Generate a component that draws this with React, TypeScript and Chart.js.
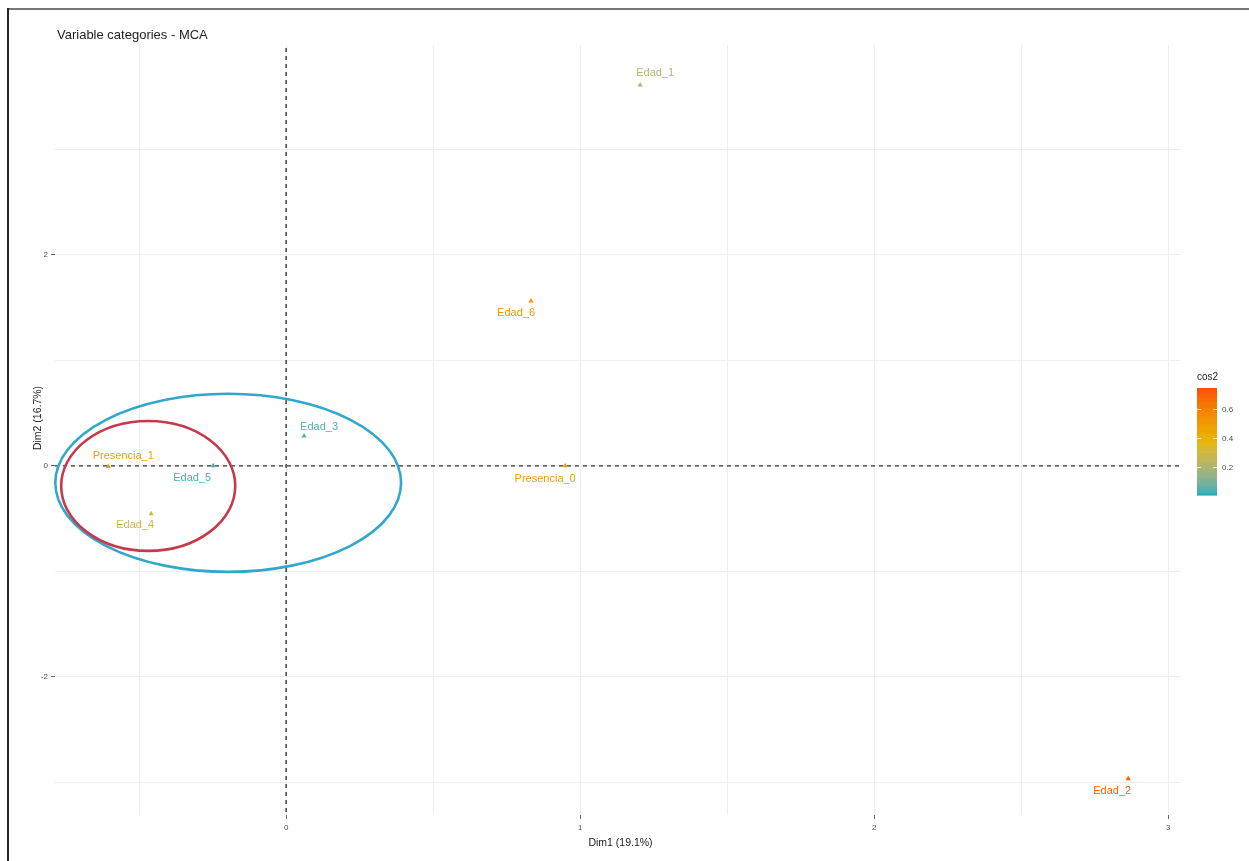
import React, { useEffect, useRef } from "react";
import { Chart, registerables } from "chart.js";

Chart.register(...registerables);

// ---- data ----
const categories = ["Edad_1", "Edad_6", "Edad_3", "Presencia_1", "Edad_5", "Edad_4", "Presencia_0", "Edad_2"];
const dim1 = [1.204, 0.833, 0.061, -0.605, -0.248, -0.459, 0.949, 2.864];
const dim2 = [3.61, 1.564, 0.284, -0.005, 0.0, -0.455, 0.0, -2.967];
const cos2 = [0.22, 0.52, 0.05, 0.48, 0.04, 0.3, 0.48, 0.7];

const xTickLabels = [0, 1, 2, 3];
const yTickLabels = [-2, 0, 2];
const xGridValues = [-0.5, 0, 0.5, 1, 1.5, 2, 2.5, 3];
const yGridValues = [-3, -2, -1, 0, 1, 2, 3];

const cos2Ticks = [0.2, 0.4, 0.6];
const cos2Range = [0.01, 0.74];
const gradientColors = ["#00AFBB", "#E7B800", "#FC4E07"];

// hand-drawn highlight ellipses (data units): centre x, centre y, radius x, radius y
const ellipseCenterX = [-0.197, -0.469];
const ellipseCenterY = [-0.161, -0.19];
const ellipseRadiusX = [0.588, 0.296];
const ellipseRadiusY = [0.844, 0.616];

// ---- styles ----
const ellipseColors = ["#31a8cb", "#c43a4c"];
const labelDx = [15, -15, 15, 15, -21, -16, -20, -16];
const labelDy = [-12, 12, -9, -10, 12, 11, 13, 12];
const FONT = '"Liberation Sans", Arial, sans-serif';

// ---- colour helpers (Lab interpolation like ggplot's gradientn) ----
function hexToRgb(h: string) {
  const n = parseInt(h.slice(1), 16);
  return [(n >> 16) & 255, (n >> 8) & 255, n & 255];
}
function srgbToLin(c: number) {
  c /= 255;
  return c <= 0.04045 ? c / 12.92 : Math.pow((c + 0.055) / 1.055, 2.4);
}
function linToSrgb(c: number) {
  const v = c <= 0.0031308 ? 12.92 * c : 1.055 * Math.pow(c, 1 / 2.4) - 0.055;
  return Math.max(0, Math.min(255, Math.round(v * 255)));
}
const WX = 0.95047, WY = 1.0, WZ = 1.08883;
function fLab(t: number) {
  return t > 216 / 24389 ? Math.cbrt(t) : (24389 / 27 * t + 16) / 116;
}
function fInv(t: number) {
  const t3 = t * t * t;
  return t3 > 216 / 24389 ? t3 : (116 * t - 16) / (24389 / 27);
}
function rgbToLab(rgb: number[]) {
  const [r, g, b] = rgb.map(srgbToLin);
  const X = 0.4124 * r + 0.3576 * g + 0.1805 * b;
  const Y = 0.2126 * r + 0.7152 * g + 0.0722 * b;
  const Z = 0.0193 * r + 0.1192 * g + 0.9505 * b;
  const fx = fLab(X / WX), fy = fLab(Y / WY), fz = fLab(Z / WZ);
  return [116 * fy - 16, 500 * (fx - fy), 200 * (fy - fz)];
}
function labToRgb(lab: number[]) {
  const fy = (lab[0] + 16) / 116;
  const fx = fy + lab[1] / 500;
  const fz = fy - lab[2] / 200;
  const X = fInv(fx) * WX, Y = fInv(fy) * WY, Z = fInv(fz) * WZ;
  const r = 3.2406 * X - 1.5372 * Y - 0.4986 * Z;
  const g = -0.9689 * X + 1.8758 * Y + 0.0415 * Z;
  const b = 0.0557 * X - 0.204 * Y + 1.057 * Z;
  return [linToSrgb(r), linToSrgb(g), linToSrgb(b)];
}
function colorAtFraction(t: number) {
  t = Math.max(0, Math.min(1, t));
  const seg = t < 0.5 ? 0 : 1;
  const f = seg === 0 ? t / 0.5 : (t - 0.5) / 0.5;
  const a = rgbToLab(hexToRgb(gradientColors[seg]));
  const b = rgbToLab(hexToRgb(gradientColors[seg + 1]));
  const c = labToRgb(a.map((x, i) => x + (b[i] - x) * f));
  return `rgb(${c[0]},${c[1]},${c[2]})`;
}
function colorFor(v: number) {
  return colorAtFraction((v - cos2Range[0]) / (cos2Range[1] - cos2Range[0]));
}

const decor = {
  id: "decor",
  beforeDatasetsDraw(chart: any) {
    const { ctx, chartArea, scales } = chart;
    const x0 = scales.x.getPixelForValue(0);
    const y0 = scales.y.getPixelForValue(0);
    ctx.save();
    ctx.strokeStyle = "#333";
    ctx.lineWidth = 1.4;
    ctx.setLineDash([4, 4]);
    ctx.beginPath();
    ctx.moveTo(chartArea.left, y0);
    ctx.lineTo(chartArea.right, y0);
    ctx.moveTo(x0, chartArea.top + 3);
    ctx.lineTo(x0, chartArea.bottom - 3);
    ctx.stroke();
    ctx.restore();
  },
  afterDatasetsDraw(chart: any) {
    const { ctx, chartArea, scales } = chart;
    const xs = scales.x;
    const ys = scales.y;
    ctx.save();
    // point labels
    ctx.font = `11px ${FONT}`;
    ctx.textAlign = "center";
    ctx.textBaseline = "middle";
    categories.forEach((c, i) => {
      ctx.fillStyle = colorFor(cos2[i]);
      ctx.fillText(c, xs.getPixelForValue(dim1[i]) + labelDx[i], ys.getPixelForValue(dim2[i]) + labelDy[i]);
    });
    // ellipses
    ctx.lineWidth = 2.6;
    ellipseCenterX.forEach((cx, i) => {
      const px = xs.getPixelForValue(cx);
      const py = ys.getPixelForValue(ellipseCenterY[i]);
      const rx = Math.abs(xs.getPixelForValue(cx + ellipseRadiusX[i]) - px);
      const ry = Math.abs(ys.getPixelForValue(ellipseCenterY[i] + ellipseRadiusY[i]) - py);
      ctx.strokeStyle = ellipseColors[i];
      ctx.beginPath();
      ctx.ellipse(px, py, rx, ry, 0, 0, Math.PI * 2);
      ctx.stroke();
    });
    // title
    ctx.fillStyle = "#222";
    ctx.font = `13px ${FONT}`;
    ctx.textAlign = "left";
    ctx.textBaseline = "middle";
    ctx.fillText("Variable categories - MCA", chartArea.left + 2, 35);
    // axis titles
    ctx.font = `10.5px ${FONT}`;
    ctx.textAlign = "center";
    ctx.fillText("Dim1 (19.1%)", (chartArea.left + chartArea.right) / 2 + 3, 843);
    ctx.save();
    ctx.translate(38, 418);
    ctx.rotate(-Math.PI / 2);
    ctx.fillText("Dim2 (16.7%)", 0, 0);
    ctx.restore();
    // colour bar
    const barL = 1197, barW = 20, barTop = 388, barBot = 495;
    const steps = 40;
    for (let k = 0; k < steps; k++) {
      const yA = barBot - ((k + 1) / steps) * (barBot - barTop);
      ctx.fillStyle = colorAtFraction((k + 0.5) / steps);
      ctx.fillRect(barL, yA, barW, (barBot - barTop) / steps + 0.6);
    }
    const cy = (v: number) => barBot - ((v - cos2Range[0]) / (cos2Range[1] - cos2Range[0])) * (barBot - barTop);
    ctx.strokeStyle = "rgba(255,255,255,0.8)";
    ctx.lineWidth = 1;
    ctx.font = `8px ${FONT}`;
    ctx.textAlign = "left";
    cos2Ticks.forEach((t) => {
      const y = Math.round(cy(t)) + 0.5;
      ctx.beginPath();
      ctx.moveTo(barL, y);
      ctx.lineTo(barL + 4, y);
      ctx.moveTo(barL + barW - 4, y);
      ctx.lineTo(barL + barW, y);
      ctx.stroke();
      ctx.fillStyle = "#4d4d4d";
      ctx.fillText(String(t), barL + barW + 5, y);
    });
    ctx.fillStyle = "#222";
    ctx.font = `10px ${FONT}`;
    ctx.fillText("cos2", barL, 377);
    // frame of the picture
    ctx.fillStyle = "#777";
    ctx.fillRect(8, 8, chart.width - 8, 2);
    ctx.fillStyle = "#222";
    ctx.fillRect(7, 8, 2, chart.height - 8);
    ctx.restore();
  },
};

export default function App() {
  const ref = useRef<HTMLCanvasElement | null>(null);
  useEffect(() => {
    if (!ref.current) return;
    const colors = cos2.map(colorFor);
    const chart = new Chart(ref.current, {
      type: "scatter",
      data: {
        datasets: [
          {
            data: categories.map((_, i) => ({ x: dim1[i], y: dim2[i] })),
            pointStyle: "triangle",
            pointRadius: 3,
            backgroundColor: colors,
            borderColor: colors,
            borderWidth: 0,
          },
        ],
      },
      options: {
        animation: false,
        responsive: false,
        maintainAspectRatio: false,
        layout: { padding: { left: 30, right: 69, top: 45, bottom: 0 } },
        plugins: { legend: { display: false }, tooltip: { enabled: false }, title: { display: false } },
        scales: {
          x: {
            type: "linear",
            min: -0.786,
            max: 3.04,
            afterBuildTicks: (s: any) => {
              s.ticks = xGridValues.map((v) => ({ value: v }));
            },
            afterFit: (s: any) => {
              s.height = 46;
            },
            border: { display: false },
            grid: {
              color: "#eeeeee",
              lineWidth: 1,
              tickLength: 4,
              tickColor: (c: any) => (xTickLabels.includes(c.tick?.value) ? "#666" : "rgba(0,0,0,0)"),
            },
            ticks: {
              autoSkip: false,
              maxRotation: 0,
              padding: 4,
              color: "#4d4d4d",
              font: { size: 8, family: FONT },
              callback: (v: any) => (xTickLabels.includes(v) ? String(v) : ""),
            },
          },
          y: {
            type: "linear",
            min: -3.31,
            max: 3.99,
            afterBuildTicks: (s: any) => {
              s.ticks = yGridValues.map((v) => ({ value: v }));
            },
            afterFit: (s: any) => {
              s.width = 25;
            },
            border: { display: false },
            grid: {
              color: "#eeeeee",
              lineWidth: 1,
              tickLength: 4,
              tickColor: (c: any) => (yTickLabels.includes(c.tick?.value) ? "#666" : "rgba(0,0,0,0)"),
            },
            ticks: {
              autoSkip: false,
              padding: 3,
              color: "#4d4d4d",
              font: { size: 8, family: FONT },
              callback: (v: any) => (yTickLabels.includes(v) ? String(v) : ""),
            },
          },
        },
      },
      plugins: [decor],
    });
    return () => chart.destroy();
  }, []);
  return (
    <div style={{ position: "absolute", left: 0, top: 0, width: 1249, height: 861, background: "#fff" }}>
      <canvas ref={ref} width={1249} height={861} style={{ display: "block", width: 1249, height: 861 }} />
    </div>
  );
}
